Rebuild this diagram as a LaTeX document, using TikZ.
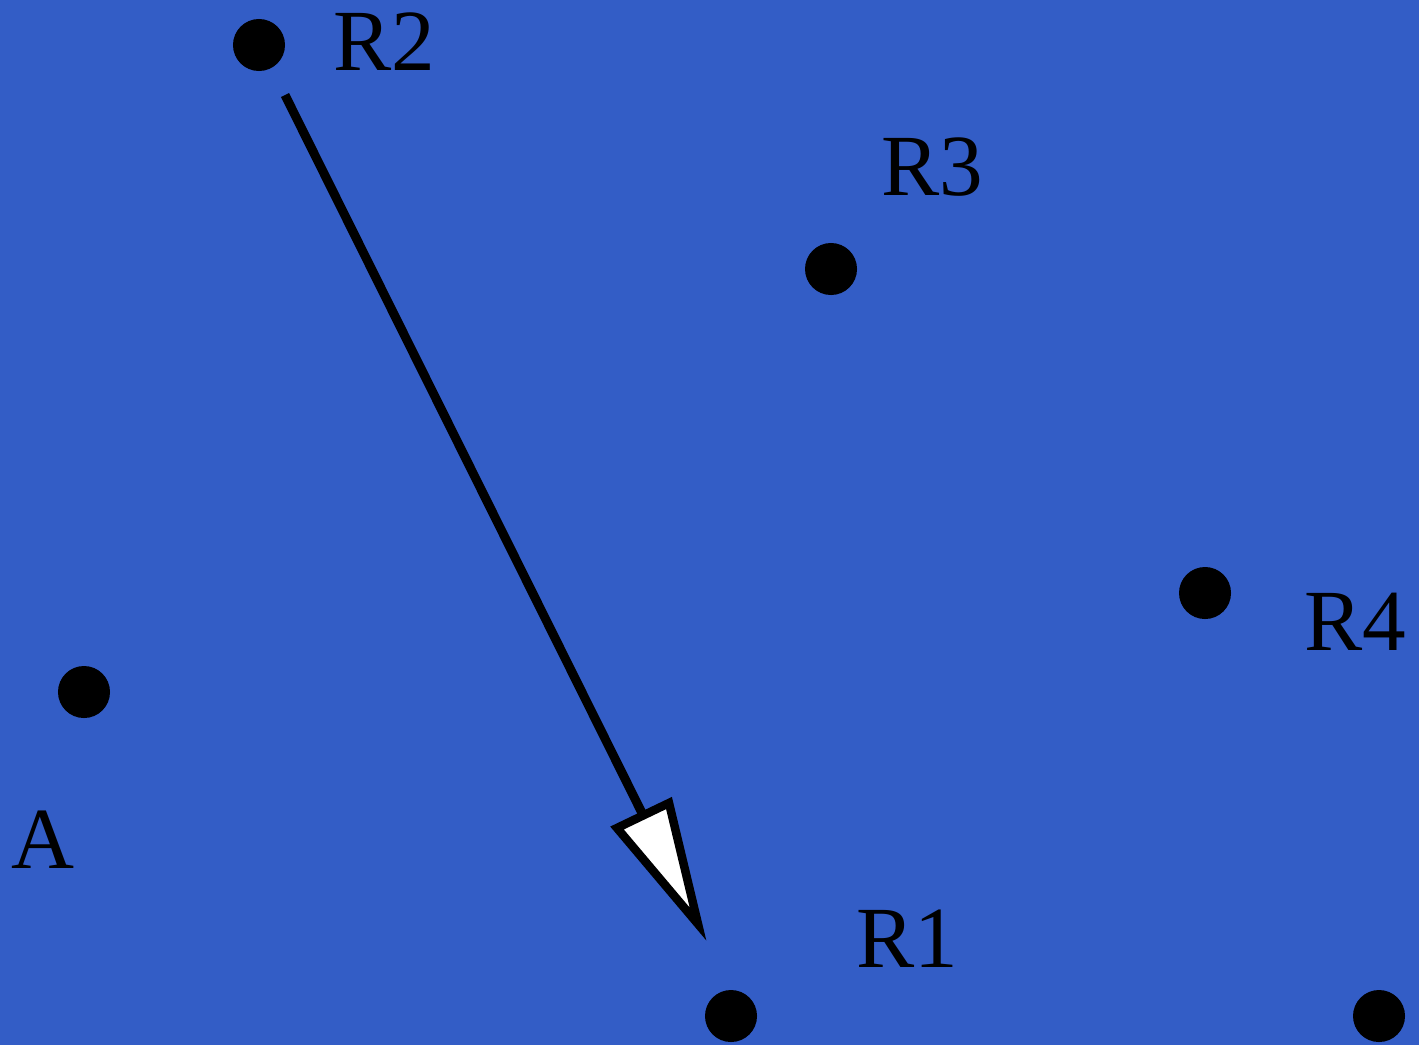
\documentclass[tikz,border=0pt]{standalone}
\usepackage{fontspec}
\setmainfont{Liberation Serif}
\definecolor{bgblue}{RGB}{51,93,198}
\begin{document}
\begin{tikzpicture}[x=0.01cm,y=-0.01cm,
  dot/.style={circle,fill=black,inner sep=0pt,minimum size=0.52cm},
  lbl/.style={anchor=base west,inner sep=0pt,font=\fontsize{24.8}{28}\selectfont},
  conn/.style={line width=0.09cm},
  headstyle/.style={line width=0.085cm,fill=white,line join=miter,miter limit=20}]
\fill[bgblue] (0,0) rectangle (1419,1045);
\useasboundingbox (0,0) rectangle (1419,1045);
\node[dot] (r2) at (259,45) {};
\node[dot] (r3) at (831,269) {};
\node[dot] (r4) at (1205,593) {};
\node[dot] (a) at (84,692) {};
\node[dot] (r1) at (731,1016) {};
\node[dot] (r5) at (1379,1016) {};
\node[lbl] (lr2) at (333,70) {R2};
\node[lbl] (lr3) at (881,195) {R3};
\node[lbl] (lr4) at (1304,650) {R4};
\node[lbl] (la) at (11,868) {A};
\node[lbl] (lr1) at (856,967) {R1};
\coordinate (s) at (285,95);
\coordinate (hb) at (643,815);
\coordinate (hl) at (617,828);
\coordinate (hr) at (669,803);
\coordinate (ht) at (698,924);
\draw[conn] (s) -- (hb);
\draw[headstyle] (hl) -- (hr) -- (ht) -- cycle;
\end{tikzpicture}
\end{document}
